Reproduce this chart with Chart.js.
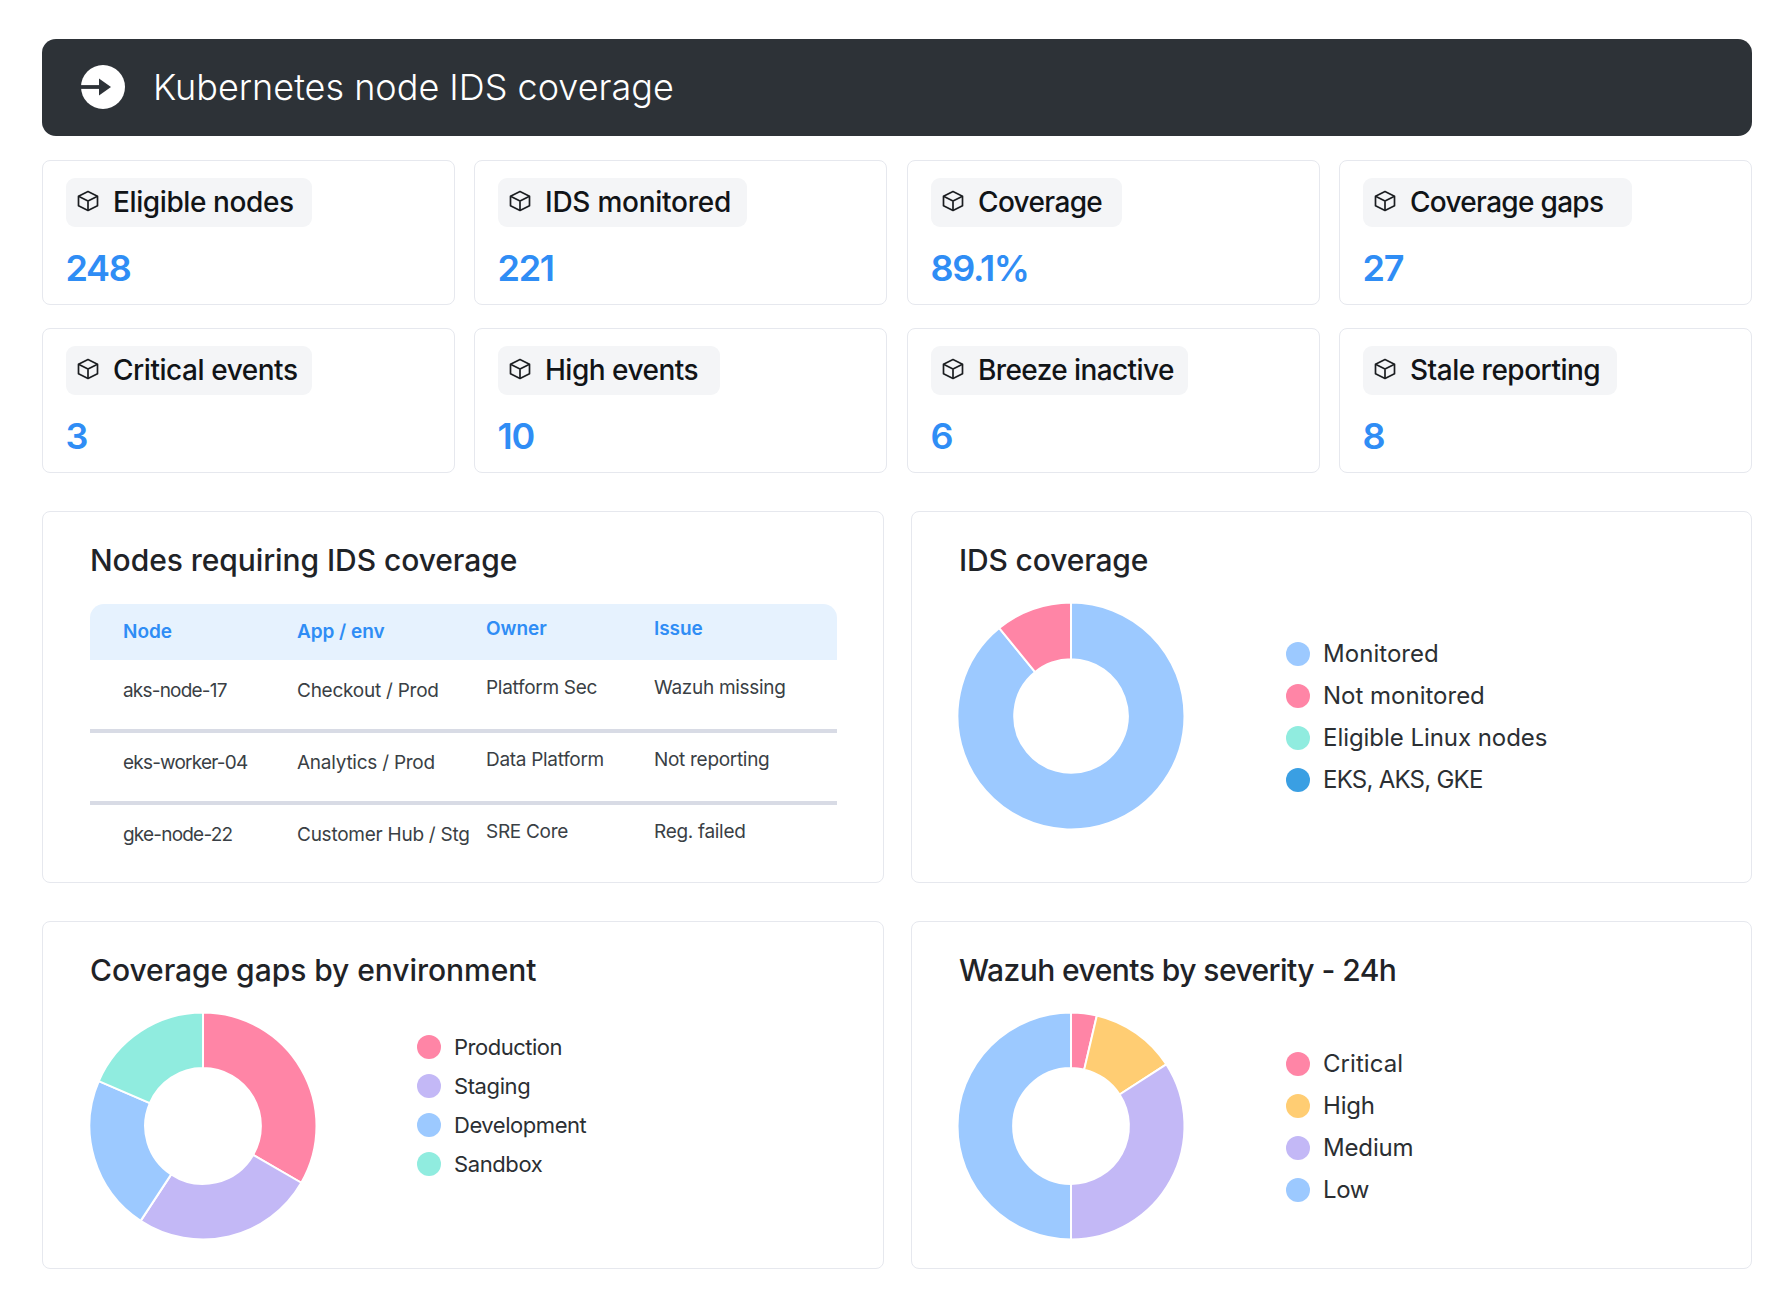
<!DOCTYPE html>
<html><head><meta charset="utf-8">
<script src="https://cdn.jsdelivr.net/npm/chart.js@4/dist/chart.umd.min.js"></script>
<style>
html,body{margin:0;padding:0;background:#fff;width:1785px;height:1293px;overflow:hidden;font-family:Inter,sans-serif;-webkit-font-smoothing:antialiased}
.abs{position:absolute}
.t{position:absolute;white-space:nowrap;line-height:1;transform:translateY(-50%)}
.box{position:absolute;box-sizing:border-box;background:#fff;border:1.5px solid #e6e8ee;border-radius:8px}
#banner{position:absolute;left:42px;top:39px;width:1710px;height:97px;background:#2d3237;border-radius:14px}
.chip{position:absolute;background:#f4f5f7;border-radius:9px;height:49px}
.kl{font-weight:550;font-size:28px;color:#111417}
.kv{font-weight:600;font-size:36px;color:#2f8df5;letter-spacing:-1.3px}
.pt{font-weight:550;font-size:30px;color:#1f2327}
.th{font-weight:600;font-size:19px;color:#2f8df5;letter-spacing:-.05px}
.td{font-weight:400;font-size:19px;color:#3a3f45;letter-spacing:-.25px}
.dot{position:absolute;width:24px;height:24px;border-radius:50%;transform:translate(-50%,-50%)}
.lg{font-weight:400;color:#2b2f33;letter-spacing:-.2px}
canvas{position:absolute}
</style></head><body>
<div id="root"></div>
<script>
const pageTitle = "Kubernetes node IDS coverage";
const kpiLabels = ["Eligible nodes","IDS monitored","Coverage","Coverage gaps","Critical events","High events","Breeze inactive","Stale reporting"];
const kpiValues = ["248","221","89.1%","27","3","10","6","8"];
const tableTitle = "Nodes requiring IDS coverage";
const tableHead = ["Node","App / env","Owner","Issue"];
const tableNodes = ["aks-node-17","eks-worker-04","gke-node-22"];
const tableApps = ["Checkout / Prod","Analytics / Prod","Customer Hub / Stg"];
const tableOwners = ["Platform Sec","Data Platform","SRE Core"];
const tableIssues = ["Wazuh missing","Not reporting","Reg. failed"];

const coverageTitle = "IDS coverage";
const coverageLabels = ["Monitored","Not monitored","Eligible Linux nodes","EKS, AKS, GKE"];
const coverageValues = [221,27,0,0];
const coverageColors = ["#9cc9ff","#ff85a6","#90ecdf","#3a9fe3"];

const gapsTitle = "Coverage gaps by environment";
const gapsLabels = ["Production","Staging","Development","Sandbox"];
const gapsValues = [9,7,6,5];
const gapsColors = ["#ff85a6","#c3b8f6","#9cc9ff","#90ecdf"];

const severityTitle = "Wazuh events by severity - 24h";
const severityLabels = ["Critical","High","Medium","Low"];
const severityValues = [3,10,28,41];
const severityColors = ["#ff85a6","#ffcd73","#c3b8f6","#9cc9ff"];

const root = document.getElementById('root');
function el(cls, css, txt){const d=document.createElement('div');d.className=cls;Object.assign(d.style,css);if(txt!==undefined)d.textContent=txt;root.appendChild(d);return d;}
function text(cls,x,y,s,extra){return el('t '+cls,Object.assign({left:x+'px',top:y+'px'},extra||{}),s);}
function box(x,y,x2,y2){return el('box',{left:x+'px',top:y+'px',width:(x2-x)+'px',height:(y2-y)+'px'});}

// banner
const b=document.createElement('div');b.id='banner';root.appendChild(b);
root.insertAdjacentHTML('beforeend','<svg class="abs" style="left:81px;top:65px" width="44" height="44" viewBox="0 0 44 44"><circle cx="22" cy="22" r="22" fill="#fff"/><path d="M0 22H24" stroke="#2d3237" stroke-width="3.8"/><path d="M18 13.5L30 22L18 30.5Z" fill="#2d3237"/></svg>');
text('',153,87,pageTitle,{color:'#fff',fontSize:'36px',fontWeight:'300',letterSpacing:'0px'});

// KPI cards
const colX=[42,474,907,1339], rowY=[160,328];
const chipR=[312,747,1122,1632,312,720,1188,1617];
const labelSpacing=[-.4,-.25,-.65,-.7,-.45,-.5,-.6,-.5];
const cube='<svg class="abs" width="24" height="24" viewBox="0 0 24 24" fill="none" stroke="#1b1e21" stroke-width="1.7" stroke-linejoin="round"><path d="M12 2.5L21.5 7.2V16.8L12 21.5L2.5 16.8V7.2Z"/><path d="M2.5 7.2L12 12L21.5 7.2M12 12V21.5"/></svg>';
kpiLabels.forEach((s,i)=>{
  const x=colX[i%4], y=rowY[i<4?0:1];
  box(x,y,x+413,y+145);
  el('chip',{left:(x+24)+'px',top:(y+18)+'px',width:(chipR[i]-x-24)+'px'});
  root.insertAdjacentHTML('beforeend',cube.replace('class="abs"','class="abs" style="left:'+(x+34)+'px;top:'+(y+29)+'px"'));
  text('kl',x+71,y+42,s,{letterSpacing:labelSpacing[i]+'px'});
  text('kv',x+23.5,y+107.5,kpiValues[i]);
});

// table panel
box(42,511,884,883);
text('pt',90,560,tableTitle,{letterSpacing:'-.07px'});
el('abs',{left:'90px',top:'604px',width:'747px',height:'56px',background:'#e6f2fe',borderRadius:'14px 14px 0 0'});
el('abs',{left:'90px',top:'729px',width:'747px',height:'3.5px',background:'#d8dbe5'});
el('abs',{left:'90px',top:'801px',width:'747px',height:'3.5px',background:'#d8dbe5'});
const cols=[123,297,486,654], off=[3,3,0,0], colSpacing=[-.8,-.25,-.3,-.3];
tableHead.forEach((s,i)=>text('th',cols[i],628+off[i],s));
[tableNodes,tableApps,tableOwners,tableIssues].forEach((col,i)=>col.forEach((s,r)=>text('td',cols[i],687+off[i]+r*72,s,{letterSpacing:colSpacing[i]+'px'})));

// donuts
function donut(cx,cy,labels,values,colors,cut,rad){
  const cv=document.createElement('canvas');cv.width=234;cv.height=234;
  cv.style.left=(cx-117)+'px';cv.style.top=(cy-117)+'px';cv.style.width='234px';cv.style.height='234px';
  root.appendChild(cv);
  return new Chart(cv,{type:'doughnut',data:{labels:labels,datasets:[{data:values,backgroundColor:colors,borderColor:'#fff',borderWidth:2}]},
    options:{responsive:false,animation:false,radius:rad,cutout:cut,layout:{padding:0},plugins:{legend:{display:false},tooltip:{enabled:false}}}});
}
function legend(chart,dotX,textX,ys,size,ls){
  const ds=chart.data.datasets[0];
  chart.data.labels.forEach((s,i)=>{
    el('dot',{left:dotX+'px',top:ys[i]+'px',background:ds.backgroundColor[i]});
    text('lg',textX,ys[i],s,{fontSize:size+'px',letterSpacing:ls[i]+'px'});
  });
}
box(911,511,1752,883);
text('pt',959,560,coverageTitle,{letterSpacing:'-.15px'});
legend(donut(1071,716,coverageLabels,coverageValues,coverageColors,'50%',113.5),1298,1323,[654,696,738,780],24,[.05,0,-.05,-.75]);

box(42,921,884,1269);
text('pt',90,970,gapsTitle,{letterSpacing:'-.05px'});
legend(donut(203,1126,gapsLabels,gapsValues,gapsColors,'51%',113.5),429,454,[1047,1086,1125,1164],22,[-.5,-.4,-.45,-.4]);

box(911,921,1752,1269);
text('pt',959,970,severityTitle,{letterSpacing:'-.55px'});
legend(donut(1071,1126,severityLabels,severityValues,severityColors,'51%',113.5),1298,1323,[1064,1106,1148,1190],24,[.05,-.2,-.15,-.4]);
</script>
</body></html>
